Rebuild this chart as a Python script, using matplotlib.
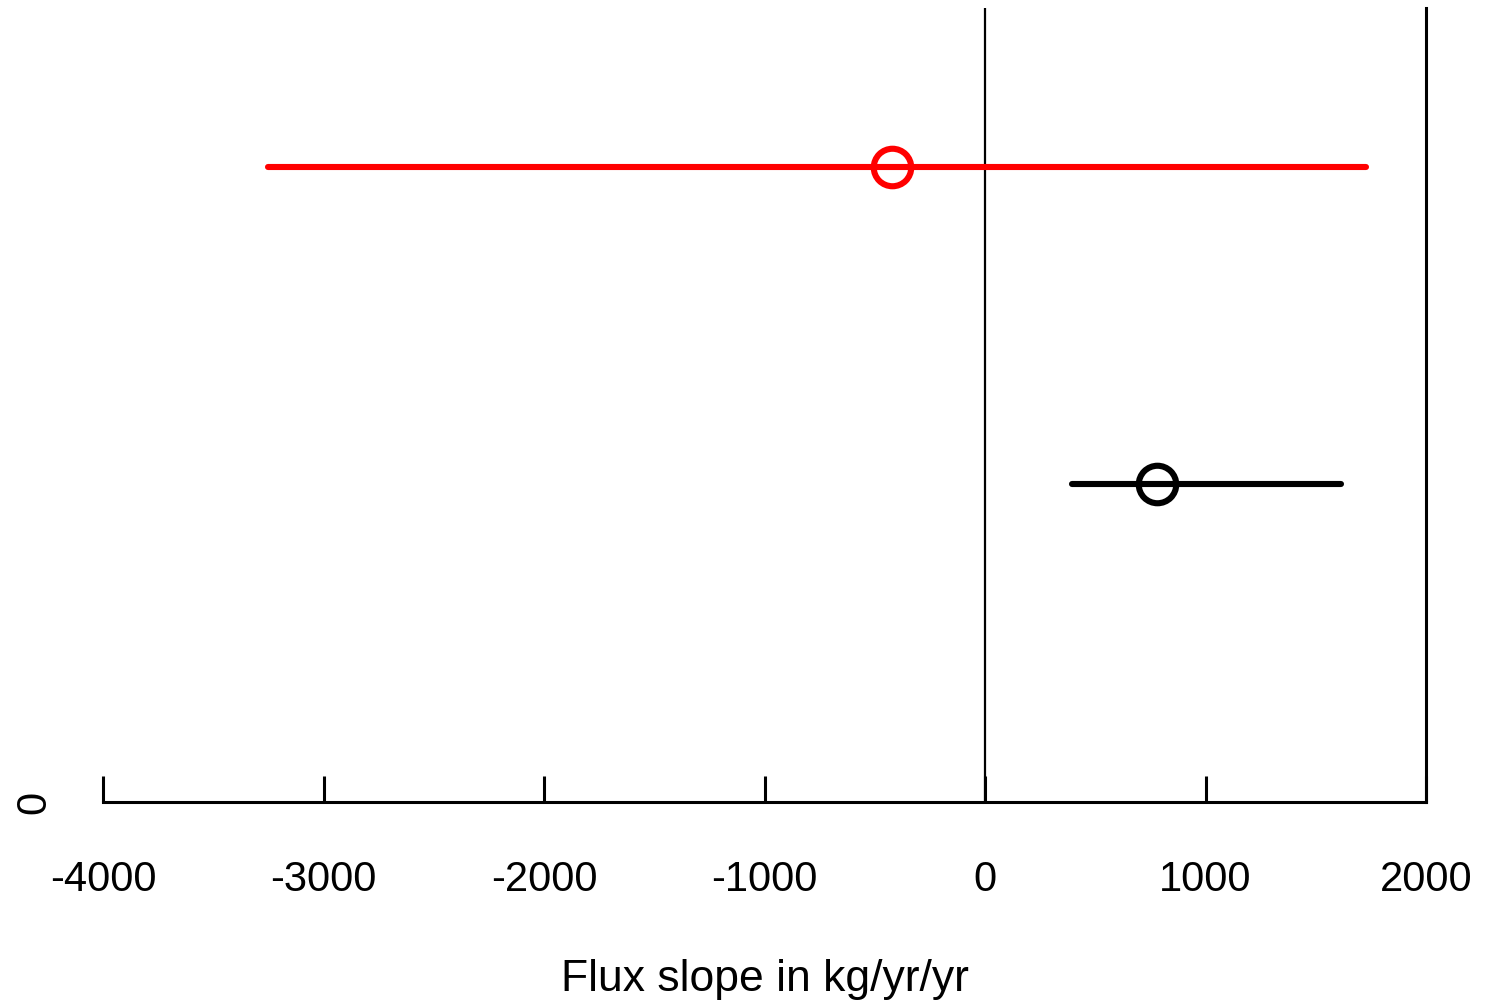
import matplotlib
matplotlib.use("Agg")
from matplotlib import pyplot as plt
import numpy as np

# slope estimates with their intervals
rows = [1, 2]
slopes = [780, -422]
lower = [395, -3252]
upper = [1615, 1728]
colours = ["black", "red"]

xticks = [-4000, -3000, -2000, -1000, 0, 1000, 2000]

plt.rcParams["font.family"] = ["Liberation Sans", "DejaVu Sans"]

fig = plt.figure(figsize=(14.87, 10.01), dpi=100)
ax = fig.add_axes([103 / 1487, 199 / 1001, 1323 / 1487, 794 / 1001])

for y, s, lo, hi, c in zip(rows, slopes, lower, upper, colours):
  ax.plot([lo, hi], [y, y], color=c, lw=4.4, solid_capstyle="round", zorder=3)
  ax.plot([s], [y], marker="o", ms=27, mfc="none", mec=c, mew=4.4, zorder=4)

ax.axvline(0, color="black", lw=1.6, zorder=2)
ax.axvline(2000, color="black", lw=2.2, clip_on=False, zorder=2)

ax.set_xlim(-4000, 2000)
ax.set_ylim(0, 2.5)

for side in ["top", "right", "left"]:
  ax.spines[side].set_visible(False)
ax.spines["bottom"].set_linewidth(2.2)

ax.set_xticks(xticks)
ax.set_xticklabels([str(t) for t in xticks])
ax.tick_params(axis="x", direction="in", length=19, width=2.2, pad=42, labelsize=30)
ax.set_yticks([0])
ax.set_yticklabels(["0"], rotation=90, va="center")
ax.tick_params(axis="y", length=0, pad=35, labelsize=30)

ax.set_xlabel("Flux slope in kg/yr/yr", fontsize=32, labelpad=42)

fig.savefig("out.png", dpi=100)
